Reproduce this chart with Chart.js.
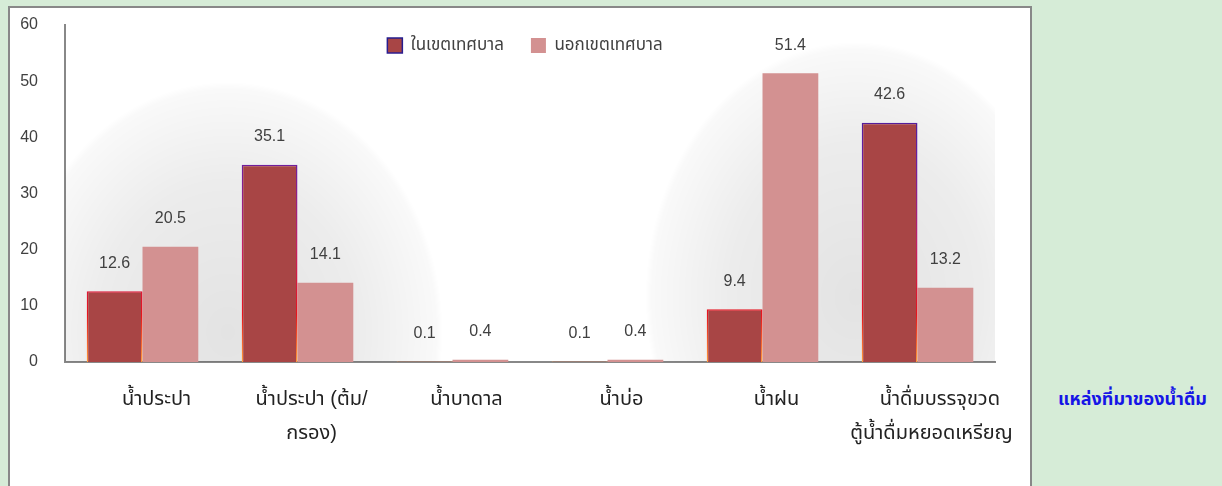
<!DOCTYPE html>
<html lang="th">
<head>
<meta charset="utf-8">
<title>แหล่งที่มาของน้ำดื่ม</title>
<script src="https://cdn.jsdelivr.net/npm/chart.js@4/dist/chart.umd.min.js"></script>
<style>
    html, body {
        margin: 0;
        padding: 0;
        width: 1222px;
        height: 486px;
        overflow: hidden;
        background: #d6ecd7;
        font-family: 'Liberation Sans', 'Noto Sans Thai', 'Noto Sans', sans-serif;
    }
    .frame {
        position: absolute;
        left: 8px;
        top: 6px;
        width: 1024px;
        height: 500px;
        box-sizing: border-box;
        border: 2px solid #888888;
        background: #ffffff;
    }
    .chart-wrap {
        position: absolute;
        left: 0;
        top: 0;
        width: 1050px;
        height: 486px;
    }
    .side-title {
        position: absolute;
        left: 1058px;
        top: 386px;
        color: #1616e6;
        font-weight: bold;
        font-size: 18px;
        white-space: nowrap;
    }
</style>
</head>
<body>
<div class="frame"></div>
<div class="chart-wrap"><canvas id="waterChart" width="1050" height="486"></canvas></div>
<div class="side-title">แหล่งที่มาของน้ำดื่ม</div>

<script>
// Data
const categories = [
    'น้ำประปา',
    ['น้ำประปา (ต้ม/', 'กรอง)'],
    'น้ำบาดาล',
    'น้ำบ่อ',
    'น้ำฝน',
    ['   น้ำดื่มบรรจุขวด', 'ตู้น้ำดื่มหยอดเหรียญ']
];
const seriesNames = ['ในเขตเทศบาล', 'นอกเขตเทศบาล'];
const insideValues = [12.6, 35.1, 0.1, 0.1, 9.4, 42.6];
const outsideValues = [20.5, 14.1, 0.4, 0.4, 51.4, 13.2];
const yTicks = [0, 10, 20, 30, 40, 50, 60];

const FONT = "'Liberation Sans', 'Noto Sans Thai', 'Noto Sans', sans-serif";
const TEXT_COLOR = '#404040';

Chart.defaults.font.family = FONT;
Chart.defaults.color = TEXT_COLOR;

// Border gradient for the dark bars (blue at top, red, orange at the base)
function insideBorder(context) {
    const chart = context.chart;
    const area = chart.chartArea;
    if (!area) return '#c02050';
    const g = chart.ctx.createLinearGradient(0, area.top, 0, area.bottom);
    g.addColorStop(0, '#1c1c8c');
    g.addColorStop(0.4, '#6a1fa0');
    g.addColorStop(0.65, '#c42066');
    g.addColorStop(0.86, '#e8141c');
    g.addColorStop(1, '#ff9a3a');
    return g;
}

// Soft grey glow behind the bar groups
const glowPlugin = {
    id: 'glow',
    beforeDatasetsDraw(chart) {
        const { ctx, chartArea, scales } = chart;
        const blobs = [
            { at: 0.55, cy: chartArea.bottom - 30, rx: 215, ry: 250 },
            { at: 4.6, cy: chartArea.bottom - 65, rx: 210, ry: 255 }
        ];
        ctx.save();
        ctx.beginPath();
        ctx.rect(chartArea.left, chartArea.top, chartArea.right - chartArea.left, chartArea.bottom - chartArea.top);
        ctx.clip();
        blobs.forEach(b => {
            const cx = scales.x.getPixelForValue(b.at);
            ctx.save();
            ctx.translate(cx, b.cy);
            ctx.scale(b.rx / b.ry, 1);
            const g = ctx.createRadialGradient(0, 0, 0, 0, 0, b.ry);
            g.addColorStop(0, 'rgba(0,0,0,0.11)');
            g.addColorStop(0.6, 'rgba(0,0,0,0.075)');
            g.addColorStop(0.97, 'rgba(0,0,0,0.025)');
            g.addColorStop(1, 'rgba(0,0,0,0)');
            ctx.fillStyle = g;
            ctx.beginPath();
            ctx.arc(0, 0, b.ry, 0, Math.PI * 2);
            ctx.fill();
            ctx.restore();
        });
        ctx.restore();
    }
};

// Value labels above each bar
const valueLabels = {
    id: 'valueLabels',
    afterDatasetsDraw(chart) {
        const ctx = chart.ctx;
        ctx.save();
        ctx.font = '16px ' + FONT;
        ctx.fillStyle = TEXT_COLOR;
        ctx.textAlign = 'center';
        ctx.textBaseline = 'middle';
        chart.data.datasets.forEach((ds, i) => {
            chart.getDatasetMeta(i).data.forEach((bar, j) => {
                ctx.fillText(ds.data[j].toFixed(1), bar.x, bar.y - 28);
            });
        });
        ctx.restore();
    }
};

// Let the legend sit inside the plot area instead of pushing it down
const legendOverlay = {
    id: 'legendOverlay',
    afterInit(chart) {
        const legend = chart.legend;
        if (!legend) return;
        const fit = legend.fit;
        legend.fit = function () {
            fit.call(this);
            this.height = 15;
        };
    },
    afterLayout(chart) {
        const legend = chart.legend;
        if (!legend) return;
        // widen the box: items below the reserved strip still draw,
        // and centring uses the full canvas width
        legend.height = 60;
        legend.bottom = legend.top + 60;
        legend.right = chart.width;
        legend.width = chart.width - legend.left;
    }
};

const chart = new Chart(document.getElementById('waterChart'), {
    type: 'bar',
    data: {
        labels: categories,
        datasets: [
            {
                label: seriesNames[0],
                data: insideValues,
                backgroundColor: '#a84545',
                borderColor: insideBorder,
                borderWidth: 1.5
            },
            {
                label: seriesNames[1],
                data: outsideValues,
                backgroundColor: '#d39191',
                borderWidth: 0
            }
        ]
    },
    options: {
        responsive: false,
        animation: false,
        events: [],
        layout: {
            padding: { top: 10, right: 55, bottom: 0, left: 0 }
        },
        datasets: {
            bar: {
                barPercentage: 1,
                categoryPercentage: 0.72
            }
        },
        plugins: {
            legend: {
                position: 'top',
                align: 'center',
                labels: {
                    boxWidth: 15,
                    boxHeight: 15,
                    padding: 27,
                    color: TEXT_COLOR,
                    font: { size: 17 }
                }
            },
            tooltip: { enabled: false }
        },
        scales: {
            x: {
                grid: { display: false, drawTicks: false },
                border: { display: true, color: '#888888', width: 2 },
                ticks: {
                    color: '#222222',
                    font: { size: 20, lineHeight: 1.7 },
                    padding: 20,
                    labelOffset: 14,
                    maxRotation: 0,
                    autoSkip: false
                },
                afterFit(scale) {
                    scale.height = 124;
                    scale.paddingLeft = 0;
                    scale.paddingRight = 0;
                }
            },
            y: {
                min: 0,
                max: 60,
                grid: { display: false, drawTicks: false },
                border: { display: true, color: '#888888', width: 2 },
                afterBuildTicks(scale) {
                    scale.ticks = yTicks.map(v => ({ value: v }));
                },
                ticks: {
                    color: TEXT_COLOR,
                    font: { size: 16 },
                    padding: 27
                },
                afterFit(scale) {
                    scale.width = 65;
                    scale.paddingTop = 0;
                    scale.paddingBottom = 0;
                }
            }
        }
    },
    plugins: [glowPlugin, valueLabels, legendOverlay]
});
</script>
</body>
</html>
